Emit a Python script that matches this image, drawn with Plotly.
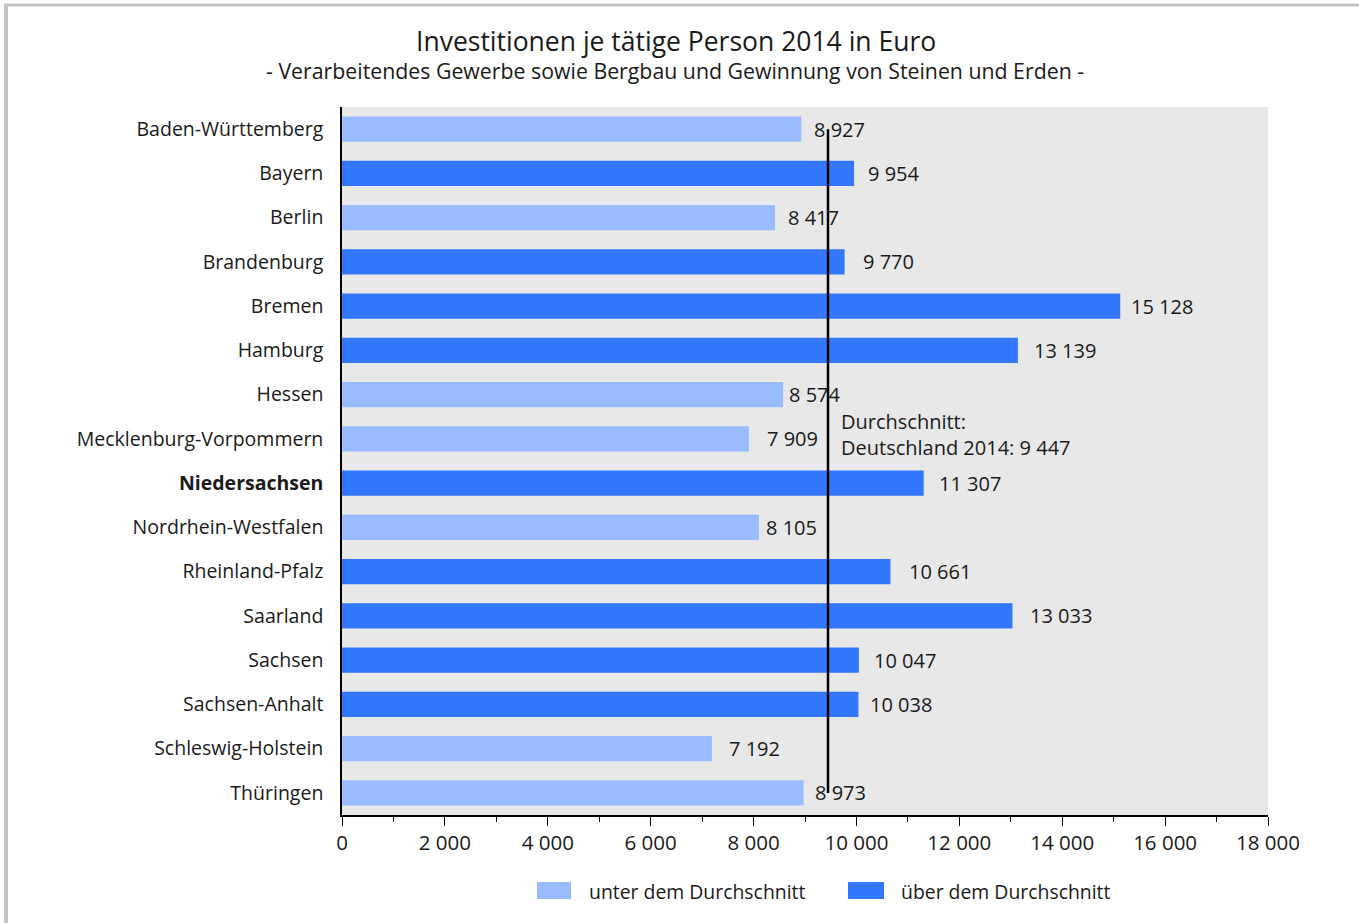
import plotly.graph_objects as go

# ---- data ----
laender = ["Baden-Württemberg", "Bayern", "Berlin", "Brandenburg", "Bremen", "Hamburg",
           "Hessen", "Mecklenburg-Vorpommern", "Niedersachsen", "Nordrhein-Westfalen",
           "Rheinland-Pfalz", "Saarland", "Sachsen", "Sachsen-Anhalt",
           "Schleswig-Holstein", "Thüringen"]
werte = [8927, 9954, 8417, 9770, 15128, 13139, 8574, 7909, 11307, 8105,
         10661, 13033, 10047, 10038, 7192, 8973]
durchschnitt = 9447
xtick_vals = [0, 2000, 4000, 6000, 8000, 10000, 12000, 14000, 16000, 18000]
xtick_text = ["0", "2 000", "4 000", "6 000", "8 000", "10 000", "12 000", "14 000", "16 000", "18 000"]
ytick_text = ["<b>Niedersachsen</b>" if l == "Niedersachsen" else l for l in laender]
label_shift = [11, 12, 11, 16, 9, 14, 4, 16, 13, 5, 17, 16, 13, 10, 15, 9]

HELL = "#99bbff"
DUNKEL = "#3377ff"
FONT = "Open Sans"
TXT = "#1a1a1a"

def fmt(v):
    return f"{v:,}".replace(",", " ")

farben = [DUNKEL if v > durchschnitt else HELL for v in werte]

W, H = 1359, 923
L, R, T, B = 342, 1268, 107, 815
pw, ph = R - L, B - T

def px(x):
    return (x - L) / pw

def py(y):
    return (B - y) / ph

fig = go.Figure()
fig.add_trace(go.Bar(
    x=werte, y=laender, orientation="h", marker=dict(color=farben, line=dict(width=0)),
    width=0.565, hoverinfo="x+y", showlegend=False,
))

annotations = []
for l, v, s in zip(laender, werte, label_shift):
    annotations.append(dict(x=v, y=l, xref="x", yref="y", text=fmt(v), showarrow=False,
                            xanchor="left", yanchor="middle", xshift=s,
                            font=dict(family=FONT, size=20, color=TXT)))

annotations.append(dict(x=durchschnitt, y="Mecklenburg-Vorpommern", xref="x", yref="y",
                        text="Durchschnitt:<br>Deutschland 2014: " + fmt(durchschnitt),
                        showarrow=False, xanchor="left", yanchor="middle", align="left",
                        xshift=11, yshift=4, font=dict(family=FONT, size=20, color=TXT)))

# titles
annotations.append(dict(x=px(675.5), y=py(41), xref="paper", yref="paper",
                        text="Investitionen je tätige Person 2014 in Euro", showarrow=False,
                        xanchor="center", yanchor="middle",
                        font=dict(family=FONT, size=26.5, color=TXT)))
annotations.append(dict(x=px(675), y=py(70), xref="paper", yref="paper",
                        text="- Verarbeitendes Gewerbe sowie Bergbau und Gewinnung von Steinen und Erden -",
                        showarrow=False, xanchor="center", yanchor="middle",
                        font=dict(family=FONT, size=21.3, color=TXT)))

# legend
legend_items = [("unter dem Durchschnitt", HELL, 537, 571, 587),
                ("über dem Durchschnitt", DUNKEL, 848, 884, 899)]
shapes = []
for name, col, x0, x1, xt in legend_items:
    shapes.append(dict(type="rect", xref="paper", yref="paper", x0=px(x0), x1=px(x1),
                       y0=py(899), y1=py(882), fillcolor=col, line=dict(width=0)))
    annotations.append(dict(x=px(xt), y=py(891), xref="paper", yref="paper", text=name,
                            showarrow=False, xanchor="left", yanchor="middle",
                            font=dict(family=FONT, size=19.4, color=TXT)))

# average line
shapes.append(dict(type="line", xref="x", yref="y", x0=durchschnitt, x1=durchschnitt,
                   y0=0, y1=len(laender) - 1, line=dict(color="black", width=2.5), layer="above"))

# outer frame
shapes.append(dict(type="line", xref="paper", yref="paper", x0=px(4), x1=px(1362),
                   y0=py(5), y1=py(5), line=dict(color="#c4c4c4", width=3)))
shapes.append(dict(type="line", xref="paper", yref="paper", x0=px(6), x1=px(6),
                   y0=py(4), y1=py(926), line=dict(color="#c4c4c4", width=4)))

fig.update_layout(
    width=W, height=H,
    margin=dict(l=L, r=W - R, t=T, b=H - B, pad=0),
    paper_bgcolor="white", plot_bgcolor="#e8e8e8",
    font=dict(family=FONT, size=19, color=TXT),
    bargap=0.4,
    annotations=annotations, shapes=shapes,
    showlegend=False,
    xaxis=dict(range=[0, 18000], tickvals=xtick_vals, ticktext=xtick_text,
               showgrid=False, zeroline=False, showline=True, linecolor="black", linewidth=1.5,
               ticks="outside", ticklen=9, tickcolor="black", tickwidth=1,
               minor=dict(dtick=1000, ticks="outside", ticklen=5, tickcolor="black", tickwidth=1, showgrid=False),
               tickfont=dict(family=FONT, size=20.5, color=TXT), fixedrange=True),
    yaxis=dict(range=[len(laender) - 0.5, -0.5], tickvals=laender, ticktext=ytick_text,
               showgrid=False, zeroline=False, showline=True, linecolor="black", linewidth=1.5,
               ticks="", ticklabelstandoff=13,
               tickfont=dict(family=FONT, size=19.5, color=TXT), fixedrange=True),
)

fig.write_html("out.html", config={"displayModeBar": False},
               post_script="document.body.style.margin='0';document.body.style.overflow='hidden';")
